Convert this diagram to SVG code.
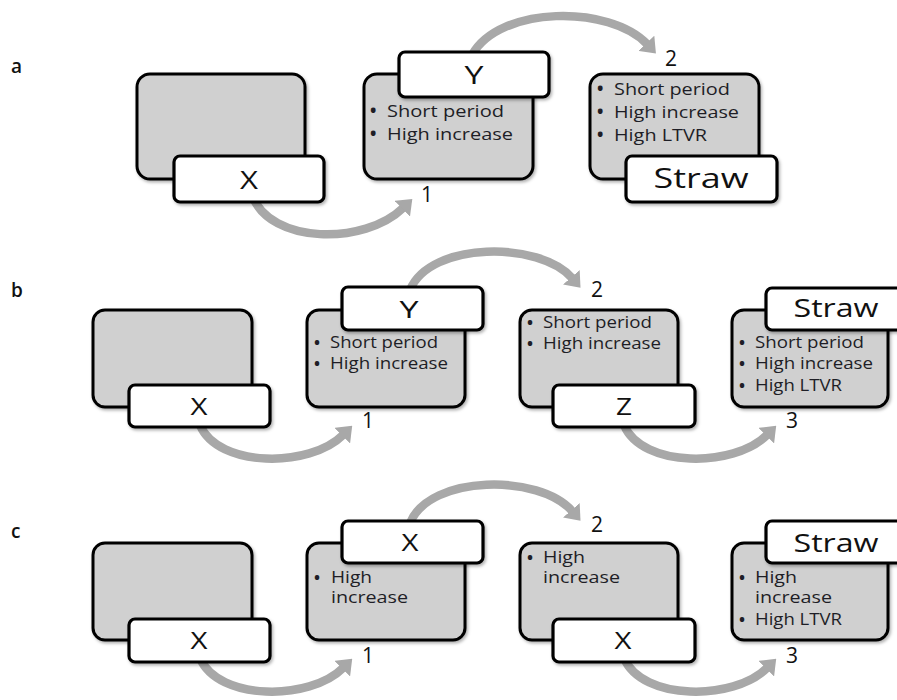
<svg xmlns="http://www.w3.org/2000/svg" width="897" height="700" viewBox="0 0 897 700">
<style>
.bg{fill:#ffffff}
.gray{fill:#d0d0d0;stroke:#000;stroke-width:3;filter:url(#sh)}
.lab{fill:#ffffff;stroke:#000;stroke-width:3.2;filter:url(#sh)}
.arr{fill:none;stroke:#a8a8a8;stroke-width:8.5;marker-end:url(#ah)}
.t{font-family:"Open Sans","Liberation Sans",sans-serif;fill:#1e1e26}
.t tspan.b{font-weight:bold}
.ta{font-size:17px}
.tb{font-size:16px}
.big{font-family:"Open Sans","Liberation Sans",sans-serif;fill:#111;text-anchor:middle}
.num{font-family:"Open Sans","Liberation Sans",sans-serif;font-size:21px;fill:#111}
.row{font-family:"Open Sans","Liberation Sans",sans-serif;font-size:19px;font-weight:600;fill:#111}
</style>
<defs>
<filter id="sh" x="-10%" y="-10%" width="125%" height="130%">
<feDropShadow dx="1.5" dy="2" stdDeviation="1.5" flood-color="#000" flood-opacity="0.3"/>
</filter>
<marker id="ah" markerUnits="userSpaceOnUse" viewBox="0 0 14 22" refX="1" refY="11" markerWidth="14" markerHeight="22" orient="auto">
<path d="M0,0 L14,11 L0,22 z" fill="#a8a8a8"/>
</marker>
</defs>
<rect class="bg" x="0" y="0" width="897" height="700"/>

<text class="row" x="11" y="73">a</text>
<text class="row" x="11" y="297">b</text>
<text class="row" x="11" y="538">c</text>

<g id="connectors">
<path class="arr" d="M252 195 C270 245,365 245,403 208"/>
<path class="arr" d="M472 55 C500 5,610 5,647 44"/>
<path class="arr" d="M200 425 C218 468,310 468,343 435"/>
<path class="arr" d="M410 290 C430 241,540 241,572 278"/>
<path class="arr" d="M624 425 C642 468,734 468,767 435"/>
<path class="arr" d="M200 658 C218 701,310 701,343 668"/>
<path class="arr" d="M410 523 C430 474,540 474,572 511"/>
<path class="arr" d="M624 658 C642 701,734 701,767 668"/>
</g>

<!-- Row a -->
<g id="a-start">
<rect class="gray" x="137" y="74" width="168" height="105" rx="13"/>
</g>
<g id="a-x">
<rect class="lab" x="174" y="156" width="150" height="46" rx="6"/>
<text class="big" x="249" y="189" font-size="26" textLength="18" lengthAdjust="spacingAndGlyphs">X</text>
</g>
<g id="a-1">
<rect class="gray" x="364" y="74" width="169" height="105" rx="13"/>
<text class="t ta"><tspan class="b" x="370" y="117">•</tspan><tspan x="387" y="117" textLength="117" lengthAdjust="spacingAndGlyphs">Short period</tspan></text>
<text class="t ta"><tspan class="b" x="370" y="140">•</tspan><tspan x="387" y="140" textLength="126" lengthAdjust="spacingAndGlyphs">High increase</tspan></text>
</g>
<g id="a-y">
<rect class="lab" x="399" y="52" width="150" height="45" rx="6"/>
<text class="big" x="474" y="84" font-size="26" textLength="19" lengthAdjust="spacingAndGlyphs">Y</text>
</g>
<text class="num" x="421" y="202">1</text>
<g id="a-2">
<rect class="gray" x="590" y="74" width="169" height="105" rx="13"/>
<text class="t ta"><tspan class="b" x="597" y="95">•</tspan><tspan x="614" y="95" textLength="116" lengthAdjust="spacingAndGlyphs">Short period</tspan></text>
<text class="t ta"><tspan class="b" x="597" y="118">•</tspan><tspan x="614" y="118" textLength="125" lengthAdjust="spacingAndGlyphs">High increase</tspan></text>
<text class="t ta"><tspan class="b" x="597" y="141">•</tspan><tspan x="614" y="141" textLength="93" lengthAdjust="spacingAndGlyphs">High LTVR</tspan></text>
</g>
<g id="a-straw">
<rect class="lab" x="626" y="156" width="151" height="46" rx="6"/>
<text class="big" x="701" y="188" font-size="28" textLength="95" lengthAdjust="spacingAndGlyphs">Straw</text>
</g>
<text class="num" x="665" y="66">2</text>

<!-- Row b -->
<g id="b-start">
<rect class="gray" x="93" y="310" width="159" height="97" rx="12"/>
</g>
<g id="b-x">
<rect class="lab" x="129" y="385" width="141" height="42" rx="6"/>
<text class="big" x="199" y="415" font-size="23" textLength="17" lengthAdjust="spacingAndGlyphs">X</text>
</g>
<g id="b-1">
<rect class="gray" x="307" y="310" width="158" height="97" rx="12"/>
<text class="t tb"><tspan class="b" x="314" y="348">•</tspan><tspan x="330" y="348" textLength="108" lengthAdjust="spacingAndGlyphs">Short period</tspan></text>
<text class="t tb"><tspan class="b" x="314" y="369">•</tspan><tspan x="330" y="369" textLength="118" lengthAdjust="spacingAndGlyphs">High increase</tspan></text>
</g>
<g id="b-y">
<rect class="lab" x="342" y="287" width="141" height="43" rx="6"/>
<text class="big" x="409" y="318" font-size="24" textLength="19" lengthAdjust="spacingAndGlyphs">Y</text>
</g>
<text class="num" x="362" y="428">1</text>
<g id="b-2">
<rect class="gray" x="520" y="310" width="158" height="97" rx="12"/>
<text class="t tb"><tspan class="b" x="527" y="328">•</tspan><tspan x="543" y="328" textLength="109" lengthAdjust="spacingAndGlyphs">Short period</tspan></text>
<text class="t tb"><tspan class="b" x="527" y="349">•</tspan><tspan x="543" y="349" textLength="118" lengthAdjust="spacingAndGlyphs">High increase</tspan></text>
</g>
<g id="b-z">
<rect class="lab" x="553" y="385" width="142" height="42" rx="6"/>
<text class="big" x="624" y="415" font-size="23" textLength="16" lengthAdjust="spacingAndGlyphs">Z</text>
</g>
<text class="num" x="591" y="297">2</text>
<g id="b-3">
<rect class="gray" x="732" y="310" width="156" height="97" rx="12"/>
<text class="t tb"><tspan class="b" x="739" y="348">•</tspan><tspan x="755" y="348" textLength="109" lengthAdjust="spacingAndGlyphs">Short period</tspan></text>
<text class="t tb"><tspan class="b" x="739" y="369">•</tspan><tspan x="755" y="369" textLength="118" lengthAdjust="spacingAndGlyphs">High increase</tspan></text>
<text class="t tb"><tspan class="b" x="739" y="391">•</tspan><tspan x="755" y="391" textLength="87" lengthAdjust="spacingAndGlyphs">High LTVR</tspan></text>
</g>
<g id="b-straw">
<rect class="lab" x="766" y="288" width="145" height="42" rx="6"/>
<text class="big" x="836" y="317" font-size="25" textLength="85" lengthAdjust="spacingAndGlyphs">Straw</text>
</g>
<text class="num" x="786" y="428">3</text>

<!-- Row c -->
<g id="c-start">
<rect class="gray" x="93" y="543" width="159" height="97" rx="12"/>
</g>
<g id="c-x">
<rect class="lab" x="129" y="619" width="141" height="43" rx="6"/>
<text class="big" x="199" y="649" font-size="23" textLength="17" lengthAdjust="spacingAndGlyphs">X</text>
</g>
<g id="c-1">
<rect class="gray" x="307" y="543" width="158" height="97" rx="12"/>
<text class="t tb"><tspan class="b" x="314" y="583">•</tspan><tspan x="331" y="583" textLength="41" lengthAdjust="spacingAndGlyphs">High</tspan></text>
<text class="t tb" x="331" y="603" textLength="77" lengthAdjust="spacingAndGlyphs">increase</text>
</g>
<g id="c-x2">
<rect class="lab" x="342" y="521" width="141" height="42" rx="6"/>
<text class="big" x="410" y="551" font-size="23" textLength="17" lengthAdjust="spacingAndGlyphs">X</text>
</g>
<text class="num" x="362" y="663">1</text>
<g id="c-2">
<rect class="gray" x="520" y="543" width="158" height="97" rx="12"/>
<text class="t tb"><tspan class="b" x="527" y="563">•</tspan><tspan x="543" y="563" textLength="42" lengthAdjust="spacingAndGlyphs">High</tspan></text>
<text class="t tb" x="543" y="583" textLength="77" lengthAdjust="spacingAndGlyphs">increase</text>
</g>
<g id="c-x3">
<rect class="lab" x="553" y="619" width="142" height="43" rx="6"/>
<text class="big" x="623" y="649" font-size="23" textLength="17" lengthAdjust="spacingAndGlyphs">X</text>
</g>
<text class="num" x="591" y="532">2</text>
<g id="c-3">
<rect class="gray" x="732" y="543" width="156" height="97" rx="12"/>
<text class="t tb"><tspan class="b" x="739" y="583">•</tspan><tspan x="755" y="583" textLength="42" lengthAdjust="spacingAndGlyphs">High</tspan></text>
<text class="t tb" x="755" y="603" textLength="77" lengthAdjust="spacingAndGlyphs">increase</text>
<text class="t tb"><tspan class="b" x="739" y="625">•</tspan><tspan x="755" y="625" textLength="87" lengthAdjust="spacingAndGlyphs">High LTVR</tspan></text>
</g>
<g id="c-straw">
<rect class="lab" x="766" y="521" width="145" height="42" rx="6"/>
<text class="big" x="836" y="552" font-size="25" textLength="85" lengthAdjust="spacingAndGlyphs">Straw</text>
</g>
<text class="num" x="786" y="663">3</text>
</svg>
